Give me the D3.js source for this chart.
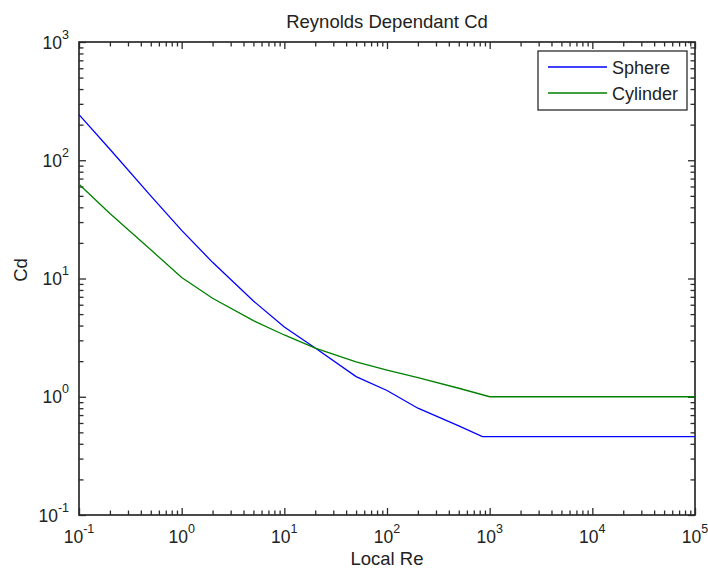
<!DOCTYPE html>
<html><head><meta charset="utf-8">
<script src="https://cdn.jsdelivr.net/npm/d3@7"></script>
<style>
body{margin:0;background:#fff}
text{font-family:"Liberation Sans",Arial,Helvetica,sans-serif;fill:#222}
</style>
</head><body>
<svg id="chart" width="708" height="570"></svg>
<script>
// ---- data ----
const sphereRe = [0.1, 0.2, 0.5, 1, 2, 5, 10, 20, 50, 100, 200, 500, 850, 1e5];
const sphereCd = [243, 124, 50, 25.5, 13.7, 6.45, 3.89, 2.58, 1.48, 1.13, 0.80, 0.568, 0.46, 0.46];
const cylinderRe = [0.1, 0.2, 0.5, 1, 2, 5, 10, 20, 50, 100, 200, 500, 1000, 1e5];
const cylinderCd = [62.6, 35.5, 17.5, 10.2, 6.8, 4.4, 3.33, 2.58, 1.97, 1.68, 1.45, 1.18, 1.0, 1.0];
const xTickExps = [-1, 0, 1, 2, 3, 4, 5];
const yTickExps = [-1, 0, 1, 2, 3];
const seriesNames = ["Sphere", "Cylinder"];
const seriesColors = ["#0000ff", "#008000"];
const titleText = "Reynolds Dependant Cd";
const xLabel = "Local Re";
const yLabel = "Cd";

// ---- layout ----
const L = 79, R = 695, T = 42, B = 515;
const svg = d3.select("#chart");
const x = d3.scaleLog().domain([1e-1, 1e5]).range([L, R]);
const y = d3.scaleLog().domain([1e-1, 1e3]).range([B, T]);

const minorOf = (exps) => {
  const out = [];
  for (let i = 0; i < exps.length - 1; i++)
    for (let m = 2; m <= 9; m++) out.push(m * Math.pow(10, exps[i]));
  return out;
};
const xMajor = xTickExps.map(e => Math.pow(10, e));
const yMajor = yTickExps.map(e => Math.pow(10, e));
const xMinor = minorOf(xTickExps);
const yMinor = minorOf(yTickExps);

const axisColor = "#2b2b2b";
function styleAxis(g) {
  g.select(".domain").remove();
  g.selectAll("line").attr("stroke", axisColor).attr("stroke-width", 1.3);
  g.selectAll("text").remove();
}
// ticks on all 4 sides, pointing inward
[[d3.axisBottom(x), `translate(0,${B})`, xMajor, xMinor],
 [d3.axisTop(x), `translate(0,${T})`, xMajor, xMinor],
 [d3.axisLeft(y), `translate(${L},0)`, yMajor, yMinor],
 [d3.axisRight(y), `translate(${R},0)`, yMajor, yMinor]
].forEach(([ax, tr, majV, minV]) => {
  svg.append("g").attr("transform", tr)
    .call(ax.tickValues(majV).tickSize(-7).tickFormat(""))
    .call(styleAxis);
  svg.append("g").attr("transform", tr)
    .call(ax.tickValues(minV).tickSize(-4.5).tickFormat(""))
    .call(styleAxis);
});

// plot box
svg.append("rect").attr("x", L).attr("y", T).attr("width", R - L).attr("height", B - T)
  .attr("fill", "none").attr("stroke", axisColor).attr("stroke-width", 1.7);

// tick labels with superscripts
function powLabel(sel, e) {
  sel.append("tspan").text("10");
  sel.append("tspan").attr("font-size", 12.5).attr("dy", -10).text(String(e));
}
xTickExps.forEach(e => {
  const t = svg.append("text").attr("x", x(Math.pow(10, e))).attr("y", 543)
    .attr("text-anchor", "middle").attr("font-size", 17.5);
  powLabel(t, e);
});
yTickExps.forEach(e => {
  const t = svg.append("text").attr("x", 69).attr("y", y(Math.pow(10, e)) + 6.5)
    .attr("text-anchor", "end").attr("font-size", 17.5);
  powLabel(t, e);
});

// lines
const line = d3.line().x(d => x(d[0])).y(d => y(d[1]));
const series = [
  d3.zip(sphereRe, sphereCd),
  d3.zip(cylinderRe, cylinderCd)
];
series.forEach((s, i) => {
  svg.append("path").datum(s).attr("d", line)
    .attr("fill", "none").attr("stroke", seriesColors[i]).attr("stroke-width", 1.3);
});

// titles
svg.append("text").attr("x", (L + R) / 2).attr("y", 28).attr("text-anchor", "middle")
  .attr("font-size", 18.5).text(titleText);
svg.append("text").attr("x", (L + R) / 2).attr("y", 565).attr("text-anchor", "middle")
  .attr("font-size", 18.5).text(xLabel);
svg.append("text").attr("transform", "translate(27,270) rotate(-90)").attr("text-anchor", "middle")
  .attr("font-size", 18.5).text(yLabel);

// legend
const lg = svg.append("g");
lg.append("rect").attr("x", 538).attr("y", 51).attr("width", 149).attr("height", 59)
  .attr("fill", "#fff").attr("stroke", axisColor).attr("stroke-width", 1.3);
seriesNames.forEach((n, i) => {
  const yy = 67 + i * 26;
  lg.append("line").attr("x1", 548).attr("x2", 607).attr("y1", yy).attr("y2", yy)
    .attr("stroke", seriesColors[i]).attr("stroke-width", 1.3);
  lg.append("text").attr("x", 612).attr("y", yy + 6.5).attr("font-size", 18).text(n);
});
</script>
</body></html>
